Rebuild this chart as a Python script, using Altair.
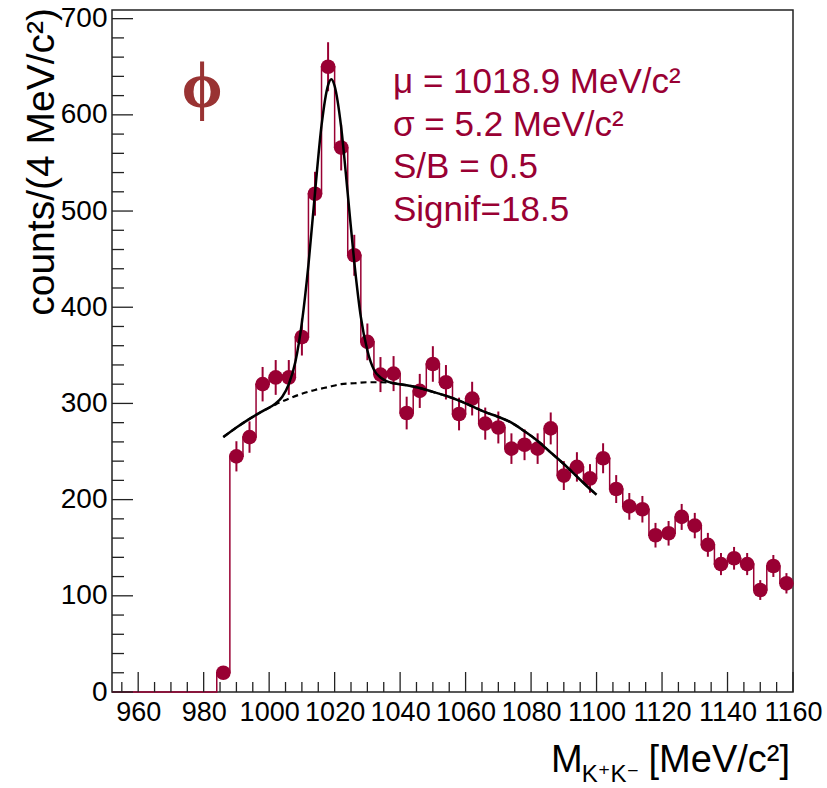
import altair as alt
import pandas as pd

# K+K- invariant-mass histogram: 52 bins of 4 MeV/c^2 from 952 to 1160 MeV/c^2
BIN_LOW = 952
BIN_WIDTH = 4
counts = [0, 0, 0, 0, 0, 0, 0, 0,
          20, 245, 265, 320, 327, 327, 369, 518, 650, 566,
          454, 364, 330, 331, 290, 313, 341, 322, 289, 305,
          279, 275, 253, 257, 253, 274, 225, 234, 222, 243,
          211, 193, 190, 163, 165, 182, 173, 153, 133, 139,
          133, 106, 131, 113]
count_errors = [0, 0, 0, 0, 0, 0, 0, 0,
                4.5, 15.7, 16.3, 17.9, 18.1, 18.1, 19.2, 22.8, 25.5, 23.8,
                21.3, 19.1, 18.2, 18.2, 17.0, 17.7, 18.5, 17.9, 17.0, 17.5,
                16.7, 16.6, 15.9, 16.0, 15.9, 16.6, 15.0, 15.3, 14.9, 15.6,
                14.5, 13.9, 13.8, 12.8, 12.8, 13.5, 13.2, 12.4, 11.5, 11.8,
                11.5, 10.3, 11.4, 10.6]

# Fit result (Gaussian signal on a smooth background), sampled over the fit range
fit_mass = [986, 990, 994, 998, 1002, 1004, 1006, 1008, 1010, 1012, 1014, 1016,
            1018, 1019, 1020, 1022, 1024, 1026, 1028, 1030, 1032, 1034, 1036,
            1038, 1042, 1046, 1050, 1054, 1058, 1062, 1066, 1070, 1074, 1078,
            1082, 1086, 1090, 1094, 1098, 1100]
fit_total = [265, 275, 284, 292, 300, 307, 320, 343, 384, 444, 519, 589,
             631, 637, 630, 587, 518, 447, 390, 355, 335, 327, 323,
             321, 319, 316, 312, 308, 303, 297, 291, 286, 280, 271,
             261, 249, 237, 224, 211, 205]
bkg_mass = [986, 990, 994, 998, 1002, 1006, 1010, 1014, 1018, 1022, 1026, 1030,
            1034, 1038, 1042, 1046, 1050, 1054, 1058, 1062, 1066, 1070, 1074,
            1078, 1082, 1086, 1090, 1094, 1098, 1100]
bkg_value = [265, 275, 284, 292, 299, 305, 310, 314, 317, 320, 321, 322,
             322, 321, 319, 316, 312, 308, 303, 297, 291, 286, 280,
             271, 261, 249, 237, 224, 211, 205]

# Axis ticks
x_major = list(range(960, 1161, 20))
x_minor = [m for m in range(955, 1160, 5) if m % 20]
y_major = list(range(0, 701, 100))
y_minor = [v for v in range(20, 701, 20) if v % 100]

stat_lines = ["μ = 1018.9 MeV/c²", "σ = 5.2 MeV/c²", "S/B = 0.5", "Signif=18.5"]

DATA = "#990033"
PHI = "#993333"
FONT = "Liberation Sans"
W, H = 681, 682

centers = [BIN_LOW + BIN_WIDTH * (i + 0.5) for i in range(len(counts))]
hist = pd.DataFrame({"mass": centers, "count": counts, "err": count_errors})
hist["lo"] = hist["count"] - hist["err"]
hist["hi"] = hist["count"] + hist["err"]
pts = hist[hist["count"] > 0]

edges = [BIN_LOW + BIN_WIDTH * i for i in range(len(counts) + 1)]
step = pd.DataFrame({"mass": edges, "count": counts + counts[-1:]})

fit_df = pd.DataFrame({"mass": fit_mass, "count": fit_total})
bkg_df = pd.DataFrame({"mass": bkg_mass, "count": bkg_value})

xs = alt.Scale(domain=[952, 1160], nice=False, zero=False)
ys = alt.Scale(domain=[0, 709], nice=False, zero=True)
x_axis = alt.Axis(values=x_major, format="d", ticks=False, domain=False, grid=False,
                  labelFontSize=27, labelFont=FONT, labelColor="black",
                  labelPadding=7, labelFlush=False, labelOverlap=False, title=None)
y_axis = alt.Axis(values=y_major, format="d", ticks=False, domain=False, grid=False,
                  labelFontSize=28, labelFont=FONT, labelColor="black",
                  labelPadding=5, labelFlush=False, labelOverlap=False, title=None)


def X(field):
    return alt.X(f"{field}:Q", scale=xs, axis=x_axis)


def Y(field):
    return alt.Y(f"{field}:Q", scale=ys, axis=y_axis)


step_line = alt.Chart(step).mark_line(
    interpolate="step-after", color=DATA, strokeWidth=1.5
).encode(x=X("mass"), y=Y("count"))

err_bars = alt.Chart(pts).mark_rule(color=DATA, strokeWidth=2).encode(
    x=X("mass"), y=Y("lo"), y2="hi"
)

dots = alt.Chart(pts).mark_circle(size=215, color=DATA, opacity=1).encode(
    x=X("mass"), y=Y("count")
)

bkg_line = alt.Chart(bkg_df).mark_line(
    color="black", strokeWidth=2.2, strokeDash=[6, 4], interpolate="monotone"
).encode(x=X("mass"), y=Y("count"))

fit_line = alt.Chart(fit_df).mark_line(
    color="black", strokeWidth=2.5, interpolate="monotone"
).encode(x=X("mass"), y=Y("count"))

# Inward-pointing ticks in the ROOT style
tick_color = "#222222"
y_major_ticks = alt.Chart(pd.DataFrame({"v": y_major})).mark_rule(
    color=tick_color, strokeWidth=1.3).encode(y=Y("v"), x=alt.value(0), x2=alt.value(21))
y_minor_ticks = alt.Chart(pd.DataFrame({"v": y_minor})).mark_rule(
    color=tick_color, strokeWidth=1.3).encode(y=Y("v"), x=alt.value(0), x2=alt.value(12))
x_major_ticks = alt.Chart(pd.DataFrame({"v": x_major})).mark_rule(
    color=tick_color, strokeWidth=1.3).encode(x=X("v"), y=alt.value(H), y2=alt.value(H - 20))
x_minor_ticks = alt.Chart(pd.DataFrame({"v": x_minor})).mark_rule(
    color=tick_color, strokeWidth=1.3).encode(x=X("v"), y=alt.value(H), y2=alt.value(H - 10))

one = pd.DataFrame({"k": [0]})


def label(text, x, y, size, color="black", align="left", baseline="alphabetic",
          font=FONT, weight="normal", angle=0):
    return alt.Chart(one).mark_text(
        text=text, font=font, fontSize=size, color=color, align=align,
        baseline=baseline, fontWeight=weight, angle=angle
    ).encode(x=alt.value(x), y=alt.value(y))


texts = [
    label("ϕ", 90, 77, 66, color=PHI, align="center", baseline="middle",
          font="Liberation Serif, DejaVu Serif", weight="bold"),
]
for i, s in enumerate(stat_lines):
    texts.append(label(s, 281, 83.3 + 42.5 * i, 35, color=DATA))

# Axis titles
texts += [
    label("counts/(4 MeV/c²)", -58, -2, 39, align="right", angle=270),
    label("M", 439, 762, 38),
    label("K⁺K⁻", 469.7, 772, 24, font="Liberation Sans, DejaVu Sans"),
    label("[MeV/c²]", 678, 762, 38, align="right"),
]

chart = alt.layer(
    step_line, err_bars, dots, bkg_line, fit_line,
    y_major_ticks, y_minor_ticks, x_major_ticks, x_minor_ticks,
    *texts
).properties(
    width=W, height=H,
    autosize=alt.AutoSizeParams(type="none"),
    padding={"left": 112, "top": 10, "right": 34, "bottom": 96},
    background="white",
).configure_view(stroke="#222222", strokeWidth=1.5)

chart.save("out.html", embed_options={"renderer": "svg", "actions": False})
